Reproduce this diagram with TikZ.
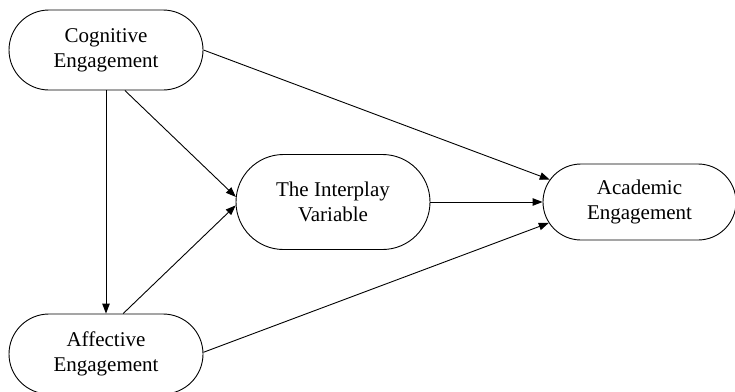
\documentclass[tikz,border=0pt]{standalone}
\usepackage{fontspec}
\setmainfont{Liberation Serif}
\usetikzlibrary{shapes.misc,arrows.meta}
\begin{document}
\begin{tikzpicture}[x=1pt,y=1pt,
  box/.style={draw,rounded rectangle,line width=0.9pt,align=center,
    font=\fontsize{21}{25}\selectfont,inner sep=0pt},
  arr/.style={line width=0.9pt,-{Triangle[length=10pt,width=7.5pt]}}]
\useasboundingbox (0,0) rectangle (735,-391);
\node[box,minimum width=194,minimum height=80] (cog) at (106,-50) {Cognitive\\Engagement};
\node[box,minimum width=194,minimum height=80] (aff) at (106,-354) {Affective\\Engagement};
\node[box,minimum width=194,minimum height=95] (inter) at (333,-202) {The Interplay\\Variable};
\node[box,minimum width=193,minimum height=76] (acad) at (639.5,-202) {Academic\\Engagement};
\draw[arr] (cog.east) -- (acad.166.5);
\draw[arr] (cog.south) -- (aff.north);
\draw[arr] (cog.-65.8) -- (inter.177.7);
\draw[arr] (aff.67) -- (inter.-178.2);
\draw[arr] (aff.1) -- (acad.-167.2);
\draw[arr] (inter.east) -- (acad.west);
\end{tikzpicture}
\end{document}
